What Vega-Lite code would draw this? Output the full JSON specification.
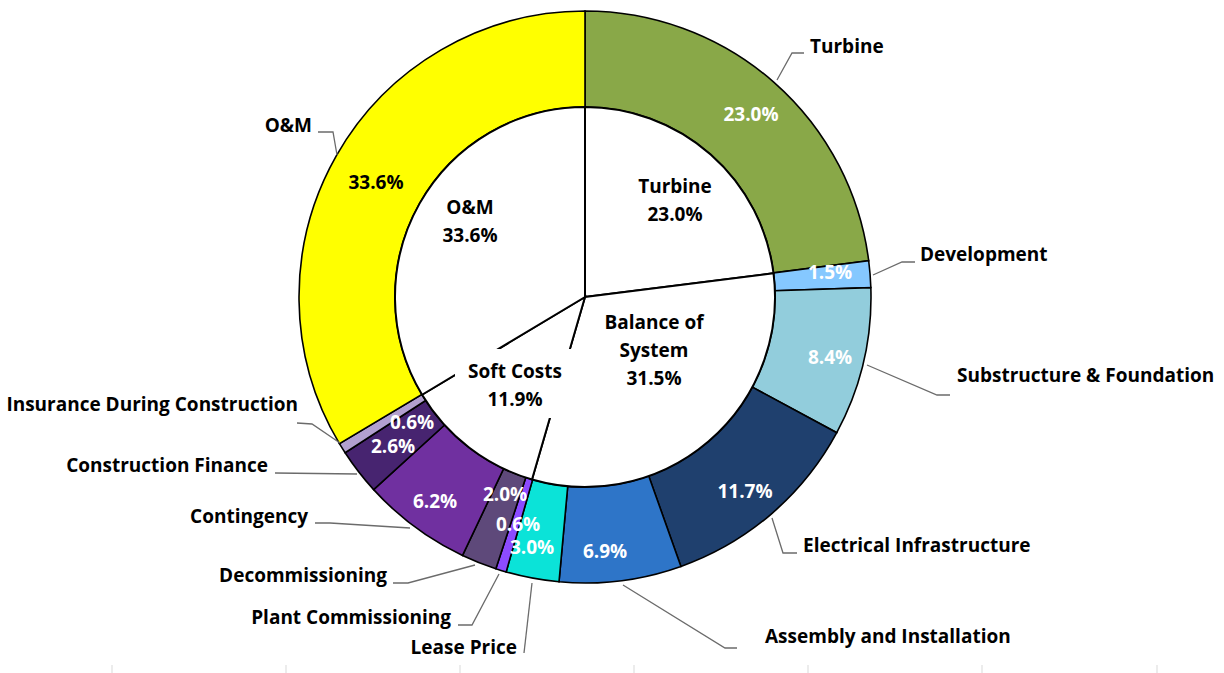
{
  "$schema": "https://vega.github.io/schema/vega-lite/v6.json",
  "width": 1170,
  "height": 594,
  "autosize": "none",
  "padding": {"left": 0, "top": 0, "right": 54, "bottom": 79},
  "background": "white",
  "config": {"view": {"stroke": null}, "font": "Open Sans"},
  "datasets": {
    "ring": [
      {"name": "Turbine", "value": 23.0, "ord": 1, "lx": 166, "ly": 182},
      {"name": "Development", "value": 1.5, "ord": 2, "lx": 245, "ly": 24},
      {"name": "Substructure & Foundation", "value": 8.4, "ord": 3, "lx": 245, "ly": -61},
      {"name": "Electrical Infrastructure", "value": 11.7, "ord": 4, "lx": 160, "ly": -195},
      {"name": "Assembly and Installation", "value": 6.9, "ord": 5, "lx": 20, "ly": -255},
      {"name": "Lease Price", "value": 3.0, "ord": 6, "lx": -53, "ly": -251},
      {"name": "Plant Commissioning", "value": 0.6, "ord": 7, "lx": -67, "ly": -228},
      {"name": "Decommissioning", "value": 2.0, "ord": 8, "lx": -80, "ly": -198},
      {"name": "Contingency", "value": 6.2, "ord": 9, "lx": -150, "ly": -205},
      {"name": "Construction Finance", "value": 2.6, "ord": 10, "lx": -192, "ly": -150},
      {"name": "Insurance During Construction", "value": 0.6, "ord": 11, "lx": -173, "ly": -126},
      {"name": "O&M", "value": 33.6, "ord": 12, "lx": -209, "ly": 114}
    ],
    "outerLabels": [
      {"name": "Turbine", "lx": 225, "ly": 250},
      {"name": "Development", "lx": 335, "ly": 42},
      {"name": "Substructure & Foundation", "lx": 372, "ly": -79},
      {"name": "Electrical Infrastructure", "lx": 218, "ly": -249},
      {"name": "Assembly and Installation", "lx": 180, "ly": -340},
      {"name": "Lease Price", "lx": -68, "ly": -351},
      {"name": "Plant Commissioning", "lx": -134, "ly": -321},
      {"name": "Decommissioning", "lx": -198, "ly": -279},
      {"name": "Contingency", "lx": -277, "ly": -220},
      {"name": "Construction Finance", "lx": -317, "ly": -169},
      {"name": "Insurance During Construction", "lx": -287, "ly": -108},
      {"name": "O&M", "lx": -273, "ly": 171}
    ],
    "inner": [
      {"group": "Turbine", "value": 23.0, "ord": 1, "label": "Turbine\n23.0%", "lx": 90, "ly": 110},
      {"group": "Balance of System", "value": 31.5, "ord": 2, "label": "Balance of\nSystem\n31.5%", "lx": 69, "ly": -26},
      {"group": "Soft Costs", "value": 11.9, "ord": 3, "label": "Soft Costs\n11.9%", "lx": -70, "ly": -75},
      {"group": "O&M", "value": 33.6, "ord": 4, "label": "O&M\n33.6%", "lx": -115, "ly": 89}
    ],
    "leaders": [
      {"name": "Turbine", "k": 1, "x": 192, "y": 217},
      {"name": "Turbine", "k": 2, "x": 207, "y": 244},
      {"name": "Turbine", "k": 3, "x": 219, "y": 244},
      {"name": "Development", "k": 1, "x": 288, "y": 22},
      {"name": "Development", "k": 2, "x": 317, "y": 35},
      {"name": "Development", "k": 3, "x": 330, "y": 35},
      {"name": "Substructure & Foundation", "k": 1, "x": 282, "y": -68},
      {"name": "Substructure & Foundation", "k": 2, "x": 352, "y": -98},
      {"name": "Substructure & Foundation", "k": 3, "x": 365, "y": -98},
      {"name": "Electrical Infrastructure", "k": 1, "x": 187, "y": -221},
      {"name": "Electrical Infrastructure", "k": 2, "x": 198, "y": -256},
      {"name": "Electrical Infrastructure", "k": 3, "x": 212, "y": -256},
      {"name": "Assembly and Installation", "k": 1, "x": 38, "y": -288},
      {"name": "Assembly and Installation", "k": 2, "x": 140, "y": -351},
      {"name": "Assembly and Installation", "k": 3, "x": 152, "y": -351},
      {"name": "Lease Price", "k": 1, "x": -53, "y": -286},
      {"name": "Lease Price", "k": 2, "x": -61, "y": -356},
      {"name": "Plant Commissioning", "k": 1, "x": -86, "y": -277},
      {"name": "Plant Commissioning", "k": 2, "x": -113, "y": -328},
      {"name": "Plant Commissioning", "k": 3, "x": -127, "y": -328},
      {"name": "Decommissioning", "k": 1, "x": -110, "y": -268},
      {"name": "Decommissioning", "k": 2, "x": -177, "y": -286},
      {"name": "Decommissioning", "k": 3, "x": -192, "y": -286},
      {"name": "Contingency", "k": 1, "x": -175, "y": -231},
      {"name": "Contingency", "k": 2, "x": -255, "y": -226},
      {"name": "Contingency", "k": 3, "x": -270, "y": -226},
      {"name": "Construction Finance", "k": 1, "x": -228, "y": -177},
      {"name": "Construction Finance", "k": 2, "x": -310, "y": -176},
      {"name": "Insurance During Construction", "k": 1, "x": -245, "y": -146},
      {"name": "Insurance During Construction", "k": 2, "x": -273, "y": -127},
      {"name": "Insurance During Construction", "k": 3, "x": -288, "y": -126},
      {"name": "O&M", "k": 1, "x": -248, "y": 142},
      {"name": "O&M", "k": 2, "x": -252, "y": 165},
      {"name": "O&M", "k": 3, "x": -267, "y": 165}
    ],
    "softBox": [{"x": -130, "x2": -10, "y": -52, "y2": -121}],
    "ticks": [
      {"x": -473, "y": -368, "y2": -376},
      {"x": -299, "y": -368, "y2": -376},
      {"x": -125, "y": -368, "y2": -376},
      {"x": 49, "y": -368, "y2": -376},
      {"x": 223, "y": -368, "y2": -376},
      {"x": 397, "y": -368, "y2": -376},
      {"x": 572, "y": -368, "y2": -376}
    ]
  },
  "resolve": {"scale": {"theta": "independent"}},
  "layer": [
    {
      "data": {"name": "ticks"},
      "mark": {"type": "rule", "color": "#d9d9d9", "strokeWidth": 1},
      "encoding": {
        "x": {"field": "x", "type": "quantitative", "scale": {"domain": [-585, 585], "nice": false, "zero": false}, "axis": null},
        "y": {"field": "y", "type": "quantitative", "scale": {"domain": [-297, 297], "nice": false, "zero": false}, "axis": null},
        "y2": {"field": "y2"}
      }
    },
    {
      "data": {"name": "ring"},
      "mark": {"type": "arc", "outerRadius": 286, "innerRadius": 190, "stroke": "black", "strokeWidth": 1.6},
      "encoding": {
        "theta": {"field": "value", "type": "quantitative", "stack": true},
        "order": {"field": "ord", "type": "quantitative"},
        "color": {
          "field": "name", "type": "nominal", "legend": null,
          "scale": {
            "domain": ["Turbine", "Development", "Substructure & Foundation", "Electrical Infrastructure", "Assembly and Installation", "Lease Price", "Plant Commissioning", "Decommissioning", "Contingency", "Construction Finance", "Insurance During Construction", "O&M"],
            "range": ["#89A848", "#85C8FF", "#92CDDC", "#1F406E", "#2E75C8", "#0BE3D8", "#8C4BFF", "#5E497A", "#7030A0", "#472470", "#B2A0CF", "#FFFF00"]
          }
        }
      }
    },
    {
      "data": {"name": "inner"},
      "mark": {"type": "arc", "outerRadius": 190, "innerRadius": 0, "fill": "white", "stroke": "black", "strokeWidth": 2},
      "encoding": {
        "theta": {"field": "value", "type": "quantitative", "stack": true},
        "order": {"field": "ord", "type": "quantitative"}
      }
    },
    {
      "data": {"name": "leaders"},
      "mark": {"type": "line", "color": "#6b6b6b", "strokeWidth": 1.3},
      "encoding": {
        "x": {"field": "x", "type": "quantitative", "scale": {"domain": [-585, 585], "nice": false, "zero": false}, "axis": null},
        "y": {"field": "y", "type": "quantitative", "scale": {"domain": [-297, 297], "nice": false, "zero": false}, "axis": null},
        "detail": {"field": "name"},
        "order": {"field": "k", "type": "quantitative"}
      }
    },
    {
      "data": {"name": "softBox"},
      "mark": {"type": "rect", "fill": "white"},
      "encoding": {
        "x": {"field": "x", "type": "quantitative", "scale": {"domain": [-585, 585], "nice": false, "zero": false}, "axis": null},
        "x2": {"field": "x2"},
        "y": {"field": "y", "type": "quantitative", "scale": {"domain": [-297, 297], "nice": false, "zero": false}, "axis": null},
        "y2": {"field": "y2"}
      }
    },
    {
      "data": {"name": "ring"},
      "transform": [{"calculate": "format(datum.value, '.1f') + '%'", "as": "pct"}],
      "mark": {"type": "text", "fontSize": 19, "fontWeight": "bold", "align": "center", "baseline": "middle"},
      "encoding": {
        "x": {"field": "lx", "type": "quantitative", "scale": {"domain": [-585, 585], "nice": false, "zero": false}, "axis": null},
        "y": {"field": "ly", "type": "quantitative", "scale": {"domain": [-297, 297], "nice": false, "zero": false}, "axis": null},
        "text": {"field": "pct"},
        "color": {"condition": {"test": "datum.name === 'O&M'", "value": "black"}, "value": "white"}
      }
    },
    {
      "data": {"name": "inner"},
      "mark": {"type": "text", "fontSize": 19, "fontWeight": "bold", "align": "center", "baseline": "middle", "lineBreak": "\n", "lineHeight": 28, "color": "black"},
      "encoding": {
        "x": {"field": "lx", "type": "quantitative", "scale": {"domain": [-585, 585], "nice": false, "zero": false}, "axis": null},
        "y": {"field": "ly", "type": "quantitative", "scale": {"domain": [-297, 297], "nice": false, "zero": false}, "axis": null},
        "text": {"field": "label"}
      }
    },
    {
      "data": {"name": "outerLabels"},
      "transform": [{"filter": "datum.lx > 0"}],
      "mark": {"type": "text", "fontSize": 19, "fontWeight": "bold", "align": "left", "baseline": "middle", "color": "black"},
      "encoding": {
        "x": {"field": "lx", "type": "quantitative", "scale": {"domain": [-585, 585], "nice": false, "zero": false}, "axis": null},
        "y": {"field": "ly", "type": "quantitative", "scale": {"domain": [-297, 297], "nice": false, "zero": false}, "axis": null},
        "text": {"field": "name"}
      }
    },
    {
      "data": {"name": "outerLabels"},
      "transform": [{"filter": "datum.lx < 0"}],
      "mark": {"type": "text", "fontSize": 19, "fontWeight": "bold", "align": "right", "baseline": "middle", "color": "black"},
      "encoding": {
        "x": {"field": "lx", "type": "quantitative", "scale": {"domain": [-585, 585], "nice": false, "zero": false}, "axis": null},
        "y": {"field": "ly", "type": "quantitative", "scale": {"domain": [-297, 297], "nice": false, "zero": false}, "axis": null},
        "text": {"field": "name"}
      }
    }
  ]
}
